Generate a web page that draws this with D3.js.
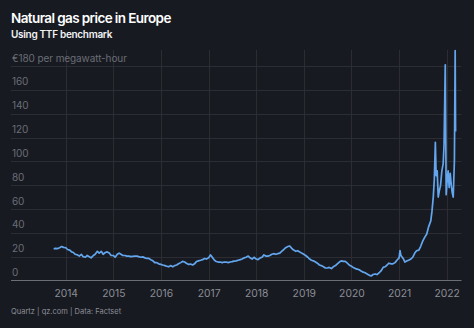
<!DOCTYPE html>
<html><head><meta charset="utf-8">
<script src="https://cdn.jsdelivr.net/npm/d3@7"></script>
<style>
html,body{margin:0;padding:0;background:#181a22;}
svg{display:block;font-family:Inter, "Noto Sans", sans-serif;}
</style></head><body>
<svg id="c" width="474" height="328"></svg>
<script>
const dates = ["2013-10-01","2013-10-15","2013-11-01","2013-11-15","2013-12-01","2013-12-15",
"2014-01-01","2014-01-15","2014-02-01","2014-02-15","2014-03-01","2014-03-15","2014-04-01","2014-04-15","2014-05-01","2014-05-15","2014-06-01","2014-06-15","2014-07-01","2014-07-15","2014-08-01","2014-08-15","2014-09-01","2014-09-15","2014-10-01","2014-10-15","2014-11-01","2014-11-15","2014-12-01","2014-12-15",
"2015-01-01","2015-01-15","2015-02-01","2015-02-15","2015-03-01","2015-03-15","2015-04-01","2015-04-15","2015-05-01","2015-05-15","2015-06-01","2015-06-15","2015-07-01","2015-07-15","2015-08-01","2015-08-15","2015-09-01","2015-09-15","2015-10-01","2015-10-15","2015-11-01","2015-11-15","2015-12-01","2015-12-15",
"2016-01-01","2016-01-15","2016-02-01","2016-02-15","2016-03-01","2016-03-15","2016-04-01","2016-04-15","2016-05-01","2016-05-15","2016-06-01","2016-06-15","2016-07-01","2016-07-15","2016-08-01","2016-08-15","2016-09-01","2016-09-15","2016-10-01","2016-10-15","2016-11-01","2016-11-15","2016-12-01","2016-12-15",
"2017-01-01","2017-01-15","2017-02-01","2017-02-15","2017-03-01","2017-03-15","2017-04-01","2017-04-15","2017-05-01","2017-05-15","2017-06-01","2017-06-15","2017-07-01","2017-07-15","2017-08-01","2017-08-15","2017-09-01","2017-09-15","2017-10-01","2017-10-15","2017-11-01","2017-11-15","2017-12-01","2017-12-15",
"2018-01-01","2018-01-15","2018-02-01","2018-02-15","2018-03-01","2018-03-15","2018-04-01","2018-04-15","2018-05-01","2018-05-15","2018-06-01","2018-06-15","2018-07-01","2018-07-15","2018-08-01","2018-08-15","2018-09-01","2018-09-15","2018-10-01","2018-10-15","2018-11-01","2018-11-15","2018-12-01","2018-12-15",
"2019-01-01","2019-01-15","2019-02-01","2019-02-15","2019-03-01","2019-03-15","2019-04-01","2019-04-15","2019-05-01","2019-05-15","2019-06-01","2019-06-15","2019-07-01","2019-07-15","2019-08-01","2019-08-15","2019-09-01","2019-09-15","2019-10-01","2019-10-15","2019-11-01","2019-11-15","2019-12-01","2019-12-15",
"2020-01-01","2020-01-15","2020-02-01","2020-02-15","2020-03-01","2020-03-15","2020-04-01","2020-04-15","2020-05-01","2020-05-15","2020-06-01","2020-06-15","2020-07-01","2020-07-15","2020-08-01","2020-08-15","2020-09-01","2020-09-15","2020-10-01","2020-10-15","2020-11-01","2020-11-15","2020-12-01","2020-12-15",
"2021-01-01","2021-01-08","2021-01-15","2021-02-01","2021-02-15","2021-03-01","2021-03-15","2021-04-01","2021-04-15","2021-05-01","2021-05-15","2021-06-01","2021-06-15","2021-07-01","2021-07-15","2021-08-01","2021-08-15","2021-09-01","2021-09-10","2021-09-20","2021-09-28","2021-10-06","2021-10-12","2021-10-20","2021-10-28","2021-11-05","2021-11-15","2021-11-25","2021-12-05","2021-12-12","2021-12-21","2021-12-28",
"2022-01-05","2022-01-12","2022-01-20","2022-01-28","2022-02-05","2022-02-12","2022-02-20","2022-03-01","2022-03-07","2022-03-10"];
const prices = [26.5,27,26.8,27.5,28.5,27.8,
27.5,26,25.5,24,23.5,22,21.5,20.5,22,20,19.5,21,20,19,21,22,24.5,23,24.5,22,23.5,24,23,21,
21,19.5,22,23,22,21,21,20.5,20.5,20,20.3,20.5,20.5,20,19.5,19.8,19,18.5,18.5,17.5,16.5,15,15,14,
13.5,13,12.5,12,11.5,12.5,11.5,12.5,13,14,15,16,15.5,14.5,13.5,13.8,13,14,16,16.5,17,17.5,18.5,18,
19,21.5,19,17,16,15.5,15.5,15,15.5,15.5,15,15.5,15.8,16.2,16.5,17,17.5,18,19,19.5,20.5,19,18,19.5,
18,17.5,19,19.5,21.5,20.5,20.5,21,22,22.5,22,22.5,23,24.5,26,27.5,28.5,29,27,25.5,24.5,25,24,23,
22,21,19.5,18,17,16.5,15.5,14.5,13,12.5,11.5,10.5,10.5,11,10,11.5,12.5,14,15.5,16.5,16,16,14.5,13,
12,11,10,9.5,9,8,7,6.5,5.5,4.5,3.8,5,5.5,5,6.5,8,11,11.5,13,14.5,14,14,15,17,
19,25,21,18.5,15.5,16.5,17,18,19.5,23,25,25.5,28.5,33,36,39,45,50,58,70,85,116,88,92,70,75,80,92,98,115,181,72,
85,92,78,90,80,74,70,100,193,125];
const yTicks = [0,20,40,60,80,100,120,140,160,180];
const yearTicks = [2014,2015,2016,2017,2018,2019,2020,2021,2022];
const title = "Natural gas price in Europe";
const subtitle = "Using TTF benchmark";
const unitLabel = "€180 per megawatt-hour";
const source = "Quartz | qz.com | Data: Factset";

const data = dates.map((d,i)=>({date:d3.isoParse(d), value:prices[i]}));
const svg = d3.select("#c");
const left = 11, right = 461.5;
const x = d3.scaleTime().domain([new Date(2014,0,1), new Date(2022,0,1)]).range([65.7, 446.7]);
const y = d3.scaleLinear().domain([0,180]).range([280.5, 66]);

// horizontal grid
svg.append("g").selectAll("line").data(yTicks.filter(t=>t>0)).join("line")
  .attr("x1",left).attr("x2",right).attr("y1",d=>Math.round(y(d))+0.5).attr("y2",d=>Math.round(y(d))+0.5)
  .attr("stroke","#2b2d32").attr("stroke-width",1);
// vertical grid
svg.append("g").selectAll("line").data(yearTicks).join("line")
  .attr("x1",d=>Math.round(x(new Date(d,0,1)))+0.5).attr("x2",d=>Math.round(x(new Date(d,0,1)))+0.5)
  .attr("y1",50).attr("y2",280)
  .attr("stroke","#2b2d32").attr("stroke-width",1);

// x axis
const xAxis = d3.axisBottom(x).tickValues(yearTicks.map(t=>new Date(t,0,1)))
  .tickFormat(d3.timeFormat("%Y")).tickSize(0).tickPadding(0);
const gx = svg.append("g").attr("transform","translate(0,280.5)").call(xAxis);
gx.select(".domain").remove();
gx.selectAll("text").attr("dy",null).attr("y",16).attr("fill","#8b8e95")
  .style("font-size","10.3px").style("font-family","Inter, sans-serif");
svg.append("line").attr("x1",left).attr("x2",right).attr("y1",280.5).attr("y2",280.5)
  .attr("stroke","#6b6e74").attr("stroke-width",1);

// y labels
svg.append("g").selectAll("text").data(yTicks).join("text")
  .attr("x",left+1).attr("y",d=>y(d)-4.5)
  .attr("fill","#6a6d74").style("font-size","10px").style("letter-spacing","-0.1px")
  .text(d=>d===180?unitLabel:d3.format("d")(d));

// line
const line = d3.line().x(d=>x(d.date)).y(d=>y(d.value));
svg.append("path").datum(data).attr("d",line).attr("fill","none")
  .attr("stroke","#63a6ee").attr("stroke-width",1.7).attr("stroke-linejoin","round");

// titles
svg.append("text").attr("x",11).attr("y",23).attr("fill","#ffffff")
  .style("font-size","13.5px").style("font-weight","600").style("letter-spacing","-0.6px").text(title);
svg.append("text").attr("x",11).attr("y",37.5).attr("fill","#f2f2f2")
  .style("font-size","10px").style("font-weight","600").style("letter-spacing","-0.3px").text(subtitle);
svg.append("text").attr("x",11).attr("y",314).attr("fill","#8b8e95")
  .style("font-size","7.5px").text(source);
</script></body></html>
